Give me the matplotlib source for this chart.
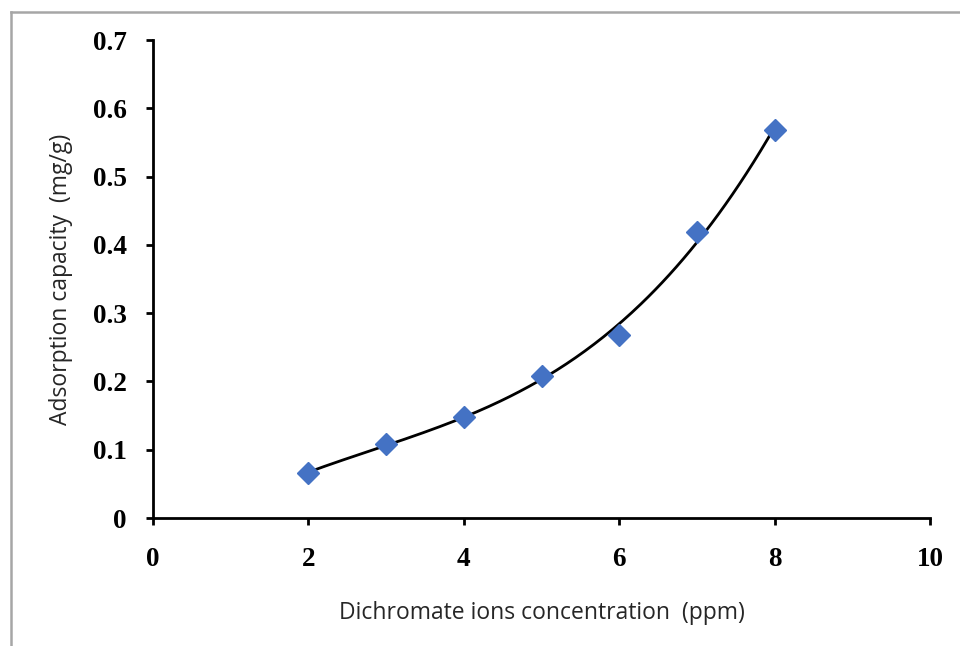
import matplotlib.pyplot as plt
import numpy as np
from matplotlib.lines import Line2D

# data
conc = [2, 3, 4, 5, 6, 7, 8]
capacity = [0.066, 0.108, 0.148, 0.208, 0.268, 0.419, 0.568]
x_ticks = [0, 2, 4, 6, 8, 10]
y_ticks = [0, 0.1, 0.2, 0.3, 0.4, 0.5, 0.6, 0.7]
y_tick_labels = ['0', '0.1', '0.2', '0.3', '0.4', '0.5', '0.6', '0.7']

fig = plt.figure(figsize=(9.6, 6.46), dpi=100)
ax = fig.add_axes([0.1594, 0.1981, 0.8094, 0.7399])

# trendline (cubic fit through the points)
coef = np.polyfit(conc, capacity, 3)
xs = np.linspace(conc[0], conc[-1], 200)
ax.plot(xs, np.polyval(coef, xs), color='black', lw=2, zorder=2)
ax.plot(conc, capacity, 'D', color='#4472C4', markersize=11, zorder=3)

ax.set_xlim(0, 10)
ax.set_ylim(0, 0.7)
ax.set_xticks(x_ticks)
ax.set_xticklabels([str(t) for t in x_ticks])
ax.set_yticks(y_ticks)
ax.set_yticklabels(y_tick_labels)

for lab in ax.get_xticklabels() + ax.get_yticklabels():
    lab.set_fontfamily('Liberation Serif')
    lab.set_fontweight('bold')
    lab.set_fontsize(19.5)

ax.spines['top'].set_visible(False)
ax.spines['right'].set_visible(False)
ax.spines['left'].set_linewidth(2)
ax.spines['bottom'].set_linewidth(2)
ax.tick_params(axis='both', direction='out', length=5, width=2, colors='black')
ax.tick_params(axis='x', pad=16)
ax.tick_params(axis='y', pad=14)

ax.set_xlabel('Dichromate ions concentration  (ppm)', fontfamily='Open Sans',
              fontsize=16.5, color='#262626', labelpad=21)
ax.set_ylabel('Adsorption capacity  (mg/g)', fontfamily='Open Sans',
              fontsize=16.5, color='#262626', labelpad=14)

# gray frame around the chart area
fig.add_artist(Line2D([0.0115, 0.0115], [0, 0.9814], transform=fig.transFigure,
                      color='#a6a6a6', lw=1.8))
fig.add_artist(Line2D([0.0115, 1], [0.9814, 0.9814], transform=fig.transFigure,
                      color='#a6a6a6', lw=1.8))

fig.savefig('out.png', dpi=100)
